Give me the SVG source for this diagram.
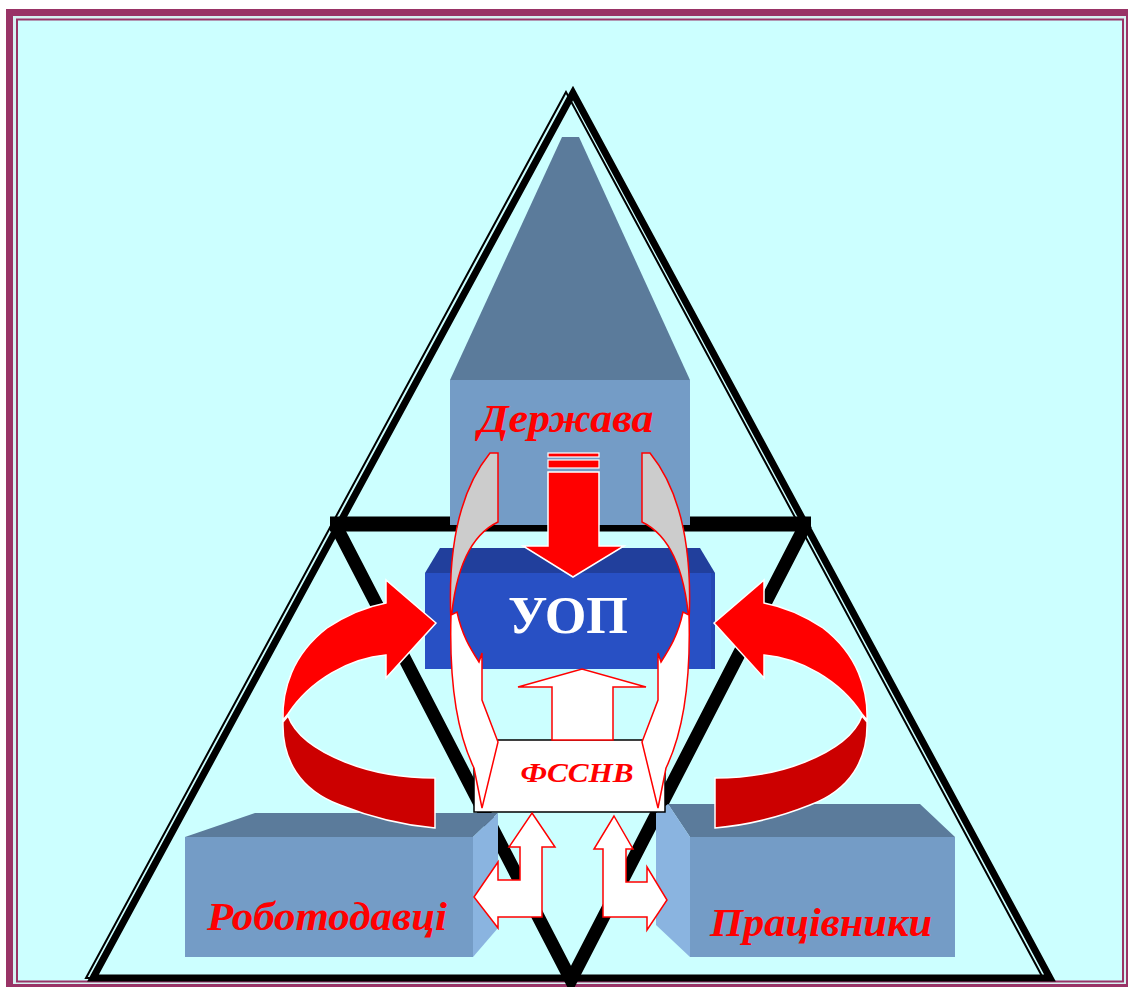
<svg xmlns="http://www.w3.org/2000/svg" width="1128" height="987" viewBox="0 0 1128 987">
<defs>
<style>
.lbl{font-family:"Liberation Serif","Times New Roman",serif;font-weight:bold;font-style:italic;fill:#FF0000;text-anchor:middle}
.uop{font-family:"Liberation Serif","Times New Roman",serif;font-weight:bold;fill:#FFFFFF;text-anchor:middle}
.front{fill:#749CC6}
.top{fill:#5B7B9B}
.side{fill:#8AB4E0}
.redA{fill:#FF0000;stroke:#FFFFFF;stroke-width:1.5;stroke-linejoin:miter}
.redD{fill:#CC0000;stroke:#FFFFFF;stroke-width:1.5}
.wA{fill:#FFFFFF;stroke:#FF0000;stroke-width:1.5;stroke-linejoin:miter}
.gA{fill:#CCCCCC;stroke:#FF0000;stroke-width:1.5}
</style>
</defs>
<rect x="0" y="0" width="1128" height="987" fill="#FFFFFF"/>
<rect x="6" y="9" width="1130" height="990" fill="#993366"/>
<rect x="13" y="16" width="1113" height="968" fill="#D6F2F2"/>
<rect x="16" y="18.5" width="1108" height="964" fill="#993366"/>
<rect x="18" y="20.5" width="1104" height="960" fill="#CCFFFF"/>

<g id="connectors">
<polygon points="566,92 86,978 1043,978" fill="none" stroke="#000" stroke-width="2"/>
<polygon points="573,93 93,978 1050,978" fill="none" stroke="#000" stroke-width="7" stroke-linejoin="miter"/>
<line x1="330" y1="524" x2="811" y2="524" stroke="#000" stroke-width="15"/>
<polyline points="335,524 571,980 806,524" fill="none" stroke="#000" stroke-width="13" stroke-linejoin="miter"/>
</g>

<g id="derzhava">
<polygon class="top" points="562,137 579,137 690,380 450,380"/>
<rect class="front" x="450" y="380" width="240" height="145"/>
<text class="lbl" x="566" y="432" font-size="41" textLength="175" lengthAdjust="spacingAndGlyphs">Держава</text>
</g>

<g id="uop">
<polygon points="440,548 700,548 715,573 425,573" fill="#213F9C"/>
<rect x="425" y="573" width="290" height="96" fill="#2850C4"/>
<rect x="711" y="573" width="4" height="96" fill="#2448B4"/>
<text class="uop" x="568" y="633" font-size="53" textLength="120" lengthAdjust="spacingAndGlyphs">УОП</text>
</g>

<g id="robotodavtsi">
<polygon class="top" points="185,837 255,813 498,813 473,837"/>
<polygon class="side" points="473,837 498,813 498,928 473,957"/>
<rect class="front" x="185" y="837" width="288" height="120"/>
<text class="lbl" x="327" y="930" font-size="41" textLength="240" lengthAdjust="spacingAndGlyphs">Роботодавці</text>
</g>

<g id="pratsivnyky">
<polygon class="top" points="668,804 920,804 955,837 690,837"/>
<polygon class="side" points="656,813 668,804 690,837 690,957 656,925"/>
<rect class="front" x="690" y="837" width="265" height="120"/>
<text class="lbl" x="821" y="936" font-size="41" textLength="222" lengthAdjust="spacingAndGlyphs">Працівники</text>
</g>

<g id="red-arrows">
<g id="red-left">
<path class="redD" d="M283,722 C282,760 300,790 340,805 C370,817 400,825 435,828 L435,778 C400,778 370,772 345,762 C315,750 295,735 288,716 Z"/>
<path class="redA" d="M283,720 C282,690 292,655 327,628 C345,616 365,607 386,603 L386,580 L436,623 L386,678 L386,655 C350,658 310,680 288,714 Z"/>
</g>
<g id="red-right" transform="translate(1150,0) scale(-1,1)">
<path class="redD" d="M283,722 C282,760 300,790 340,805 C370,817 400,825 435,828 L435,778 C400,778 370,772 345,762 C315,750 295,735 288,716 Z"/>
<path class="redA" d="M283,720 C282,690 292,655 327,628 C345,616 365,607 386,603 L386,580 L436,623 L386,678 L386,655 C350,658 310,680 288,714 Z"/>
</g>
</g>

<g id="down-arrow">
<rect x="548" y="453" width="51" height="4" fill="#FF0000" stroke="#FFFFFF" stroke-width="1.2"/>
<rect x="548" y="460" width="51" height="8" fill="#FF0000" stroke="#FFFFFF" stroke-width="1.2"/>
<polygon points="548,472 599,472 599,546 624,546 573,577 523,546 548,546" fill="#FF0000" stroke="#FFFFFF" stroke-width="1.5"/>
</g>

<g id="fssnv">
<rect x="474" y="740" width="191" height="72" fill="#FFFFFF" stroke="#000000" stroke-width="1.5"/>
<text class="lbl" x="577" y="782" font-size="28" textLength="113" lengthAdjust="spacingAndGlyphs">ФССНВ</text>
</g>

<g id="up-arrow">
<polygon class="wA" points="552,740 552,687 518,687 582,669 646,687 613,687 613,740"/>
</g>

<g id="curved-left">
<path class="gA" d="M490,453 L498,453 L498,522 C475,533 456,560 451,622 C448,560 456,495 490,453 Z"/>
<path class="wA" d="M451,615 C449,685 458,735 474,768 L482,808 L498,742 L482,700 L482,653 L479,662 C470,648 462,635 457,612 Z"/>
</g>
<g id="curved-right" transform="translate(1140,0) scale(-1,1)">
<path class="gA" d="M490,453 L498,453 L498,522 C475,533 456,560 451,622 C448,560 456,495 490,453 Z"/>
<path class="wA" d="M451,615 C449,685 458,735 474,768 L482,808 L498,742 L482,700 L482,653 L479,662 C470,648 462,635 457,612 Z"/>
</g>

<g id="bent-arrows">
<polygon class="wA" points="532,813 555,847 542,847 542,917 498,917 498,928 474,897 498,862 498,880 520,880 520,847 509,847"/>
<polygon class="wA" points="614,816 633,849 626,849 626,882 647,882 647,867 667,900 647,930 647,917 603,917 603,849 594,849"/>
</g>
</svg>
